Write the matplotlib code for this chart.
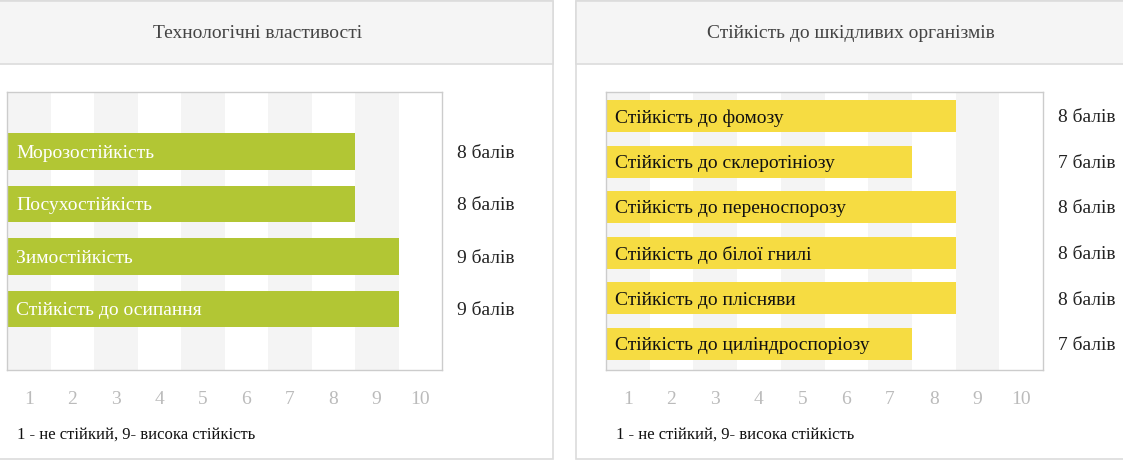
"""Two horizontal score bar charts (Ukrainian variety card)."""

import matplotlib

matplotlib.use("Agg")

import matplotlib.pyplot as plt
from matplotlib.patches import Rectangle
from matplotlib.transforms import blended_transform_factory

# ---- data ------------------------------------------------------------------
LEFT_TITLE = "Технологічні властивості"
LEFT_LABELS = ["Морозостійкість", "Посухостійкість", "Зимостійкість", "Стійкість до осипання"]
LEFT_SCORES = [8, 8, 9, 9]

RIGHT_TITLE = "Стійкість до шкідливих організмів"
RIGHT_LABELS = [
    "Стійкість до фомозу",
    "Стійкість до склеротініозу",
    "Стійкість до переноспорозу",
    "Стійкість до білої гнилі",
    "Стійкість до плісняви",
    "Стійкість до циліндроспоріозу",
]
RIGHT_SCORES = [8, 7, 8, 8, 8, 7]

SCALE_TICKS = list(range(1, 11))
UNIT = "балів"
FOOTNOTE = "1 - не стійкий, 9- висока стійкість"

# ---- style -----------------------------------------------------------------
W, H = 1123, 461
GREEN = "#b2c634"
YELLOW = "#f6dc42"
STRIPE = "#f4f4f4"
FRAME = "#cccccc"
PANEL_EDGE = "#dcdcdc"
HEADER_BG = "#f5f5f5"

plt.rcParams["font.family"] = ["Liberation Serif", "DejaVu Serif"]


def px_box(x0, y0, x1, y1):
    """pixel box (top-left origin) -> figure fraction [l, b, w, h]"""
    return [x0 / W, 1 - y1 / H, (x1 - x0) / W, (y1 - y0) / H]


def add_panel(fig, x0, x1, title):
    # panels run a little past the picture edges, like in the page screenshot
    top, head, bottom = 1, 64, 459
    l, b, w, h = px_box(x0, top, x1, bottom)
    fig.patches.append(Rectangle((l, b), w, h, transform=fig.transFigure,
                                 facecolor="white", edgecolor=PANEL_EDGE, lw=1.2, zorder=-2))
    l, b, w, h = px_box(x0, top, x1, head)
    fig.patches.append(Rectangle((l, b), w, h, transform=fig.transFigure,
                                 facecolor=HEADER_BG, edgecolor=PANEL_EDGE, lw=1.2, zorder=-1))
    fig.text((x0 + x1) / 2 / W, 1 - 33 / H, title, ha="center", va="center",
             fontsize=14, color="#444444")


def draw_chart(fig, box, labels, scores, color, text_color, ylim, foot_x):
    ax = fig.add_axes(px_box(*box))
    ax.set_zorder(1)
    ypos = list(range(len(labels)))
    for i, t in enumerate(SCALE_TICKS):
        if i % 2 == 0:
            ax.axvspan(t - 0.5, t + 0.5, color=STRIPE, lw=0, zorder=0)
    ax.barh(ypos, scores, left=0.5, height=0.7, color=color, zorder=2)
    trans = blended_transform_factory(ax.transAxes, ax.transData)
    for y, lab, s in zip(ypos, labels, scores):
        ax.annotate(lab, (0.5, y), xytext=(6.5, -1.2), textcoords="offset points",
                    ha="left", va="center", fontsize=14, color=text_color, zorder=3)
        ax.annotate(f"{s} {UNIT}", (1.035, y), xycoords=trans, xytext=(0, -1.2),
                    textcoords="offset points", ha="left", va="center",
                    fontsize=14, color="#222222", annotation_clip=False)
    ax.set_xlim(0.5, 10.5)
    ax.set_ylim(*ylim)
    ax.set_xticks(SCALE_TICKS)
    ax.set_yticks([])
    ax.tick_params(axis="x", length=0, pad=15, labelsize=14, labelcolor="#bbbbbb")
    for sp in ax.spines.values():
        sp.set_color(FRAME)
        sp.set_linewidth(1.0)
    fig.text(foot_x / W, 1 - 435 / H, FOOTNOTE, ha="left", va="center",
             fontsize=12, color="#111111")
    return ax


fig = plt.figure(figsize=(W / 100, H / 100), dpi=100)
fig.patch.set_facecolor("white")

add_panel(fig, -37, 553, LEFT_TITLE)
add_panel(fig, 576, 1126, RIGHT_TITLE)

draw_chart(fig, (7, 92, 442, 370), LEFT_LABELS, LEFT_SCORES, GREEN, "white",
           (3 + 1.16, -1.13), 17)
draw_chart(fig, (606, 92, 1043, 370), RIGHT_LABELS, RIGHT_SCORES, YELLOW, "#111111",
           (5 + 0.57, -0.53), 616)

fig.savefig("out.png", dpi=100, facecolor="white")
